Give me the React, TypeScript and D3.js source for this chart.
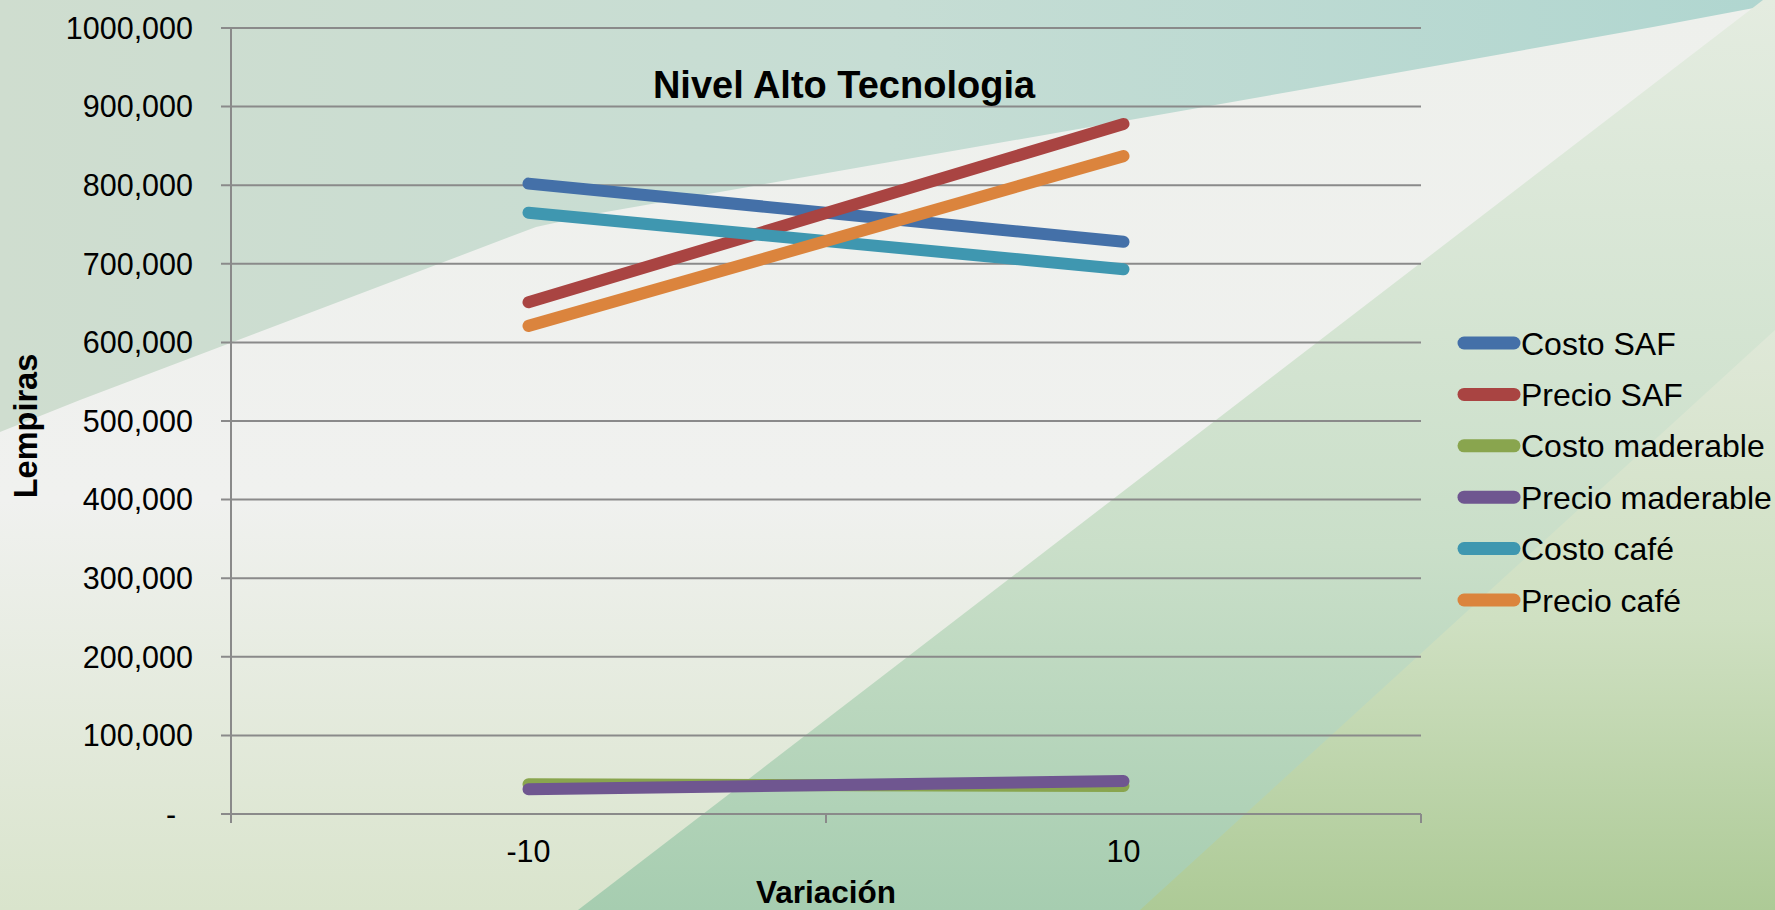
import React from 'react';
import * as d3 from 'd3';

// Data
const categories = ['-10', '10'];
const seriesNames = ['Costo SAF', 'Precio SAF', 'Costo maderable', 'Precio maderable', 'Costo café', 'Precio café'];
const costoSAF = [802000, 728000];
const precioSAF = [651000, 878000];
const costoMaderable = [38000, 35500];
const precioMaderable = [31500, 42000];
const costoCafe = [765000, 693000];
const precioCafe = [621000, 837000];
const seriesColors = ['#4470A8', '#A94442', '#89A54E', '#6F5690', '#3F97B0', '#DB843D'];
const yTickValues = [0, 100000, 200000, 300000, 400000, 500000, 600000, 700000, 800000, 900000, 1000000];
const yTickLabels = ['-\u00a0\u00a0', '100,000', '200,000', '300,000', '400,000', '500,000', '600,000', '700,000', '800,000', '900,000', '1000,000'];

const W = 1775;
const H = 910;
const FONT = "'Liberation Sans', Arial, Helvetica, sans-serif";

export default function App() {
  const margin = { top: 28, right: 354, bottom: 96, left: 231 };
  const plotRight = W - margin.right;
  const plotBottom = H - margin.bottom;

  const x = d3.scaleBand<string>().domain(categories).range([margin.left, plotRight]);
  const y = d3.scaleLinear().domain([0, 1000000]).range([plotBottom, margin.top]);
  const cx = (c: string) => (x(c) as number) + x.bandwidth() / 2;

  const values = [costoSAF, precioSAF, costoMaderable, precioMaderable, costoCafe, precioCafe];
  const line = d3.line<number>()
    .x((_, i) => cx(categories[i]))
    .y(d => y(d));

  const xTicks = [margin.left, ...categories.slice(1).map(c => x(c) as number), plotRight];

  return (
    <div style={{ position: 'absolute', left: 0, top: 0 }}>
      <svg width={W} height={H} style={{ display: 'block', fontFamily: FONT }}>
        <defs>
          <linearGradient id="bg-base" x1="0" y1="0" x2="0" y2="1">
            <stop offset="0%" stopColor="#eef0ec" />
            <stop offset="55%" stopColor="#f0f1ef" />
            <stop offset="100%" stopColor="#d9e4cc" />
          </linearGradient>
          <linearGradient id="bg-top" x1="0" y1="0" x2="1" y2="0">
            <stop offset="0%" stopColor="#cfddcf" />
            <stop offset="50%" stopColor="#c6ddd4" />
            <stop offset="100%" stopColor="#b0d6d0" />
          </linearGradient>
          <linearGradient id="bg-band" x1="0" y1="0" x2="0" y2="1">
            <stop offset="0%" stopColor="#e4ece0" />
            <stop offset="60%" stopColor="#cadfc9" />
            <stop offset="100%" stopColor="#a6cdb0" />
          </linearGradient>
          <linearGradient id="bg-right" x1="0" y1="0" x2="0" y2="1">
            <stop offset="0%" stopColor="#dfe8d8" />
            <stop offset="50%" stopColor="#cfe0c2" />
            <stop offset="100%" stopColor="#adca96" />
          </linearGradient>
        </defs>

        {/* slide background */}
        <rect x={0} y={0} width={W} height={H} fill="url(#bg-base)" />
        <polygon points="0,0 1775,0 1775,4 1653,27 1300,90 600,213 536,227 80,400 0,432" fill="url(#bg-top)" />
        <polygon points="1763,0 1775,0 1775,910 578,910" fill="url(#bg-band)" />
        <polygon points="1775,330 1775,910 1140,910" fill="url(#bg-right)" />

        {/* gridlines */}
        {yTickValues.map(v => (
          <line key={v} x1={margin.left - 10} x2={plotRight} y1={y(v)} y2={y(v)} stroke="#8a8a8a" strokeWidth={2} />
        ))}
        {/* y axis */}
        <line x1={margin.left} x2={margin.left} y1={margin.top} y2={plotBottom + 9} stroke="#8a8a8a" strokeWidth={2} />
        {xTicks.map((t, i) => (
          <line key={i} x1={t} x2={t} y1={plotBottom} y2={plotBottom + 9} stroke="#8a8a8a" strokeWidth={2} />
        ))}

        {/* y tick labels */}
        {yTickValues.map((v, i) => (
          <text key={v} x={193} y={y(v) + 10.7} textAnchor="end" fontSize={30.5} fill="#000">{yTickLabels[i]}</text>
        ))}
        {/* x tick labels */}
        {categories.map(c => (
          <text key={c} x={cx(c)} y={862} textAnchor="middle" fontSize={30.5} fill="#000">{c}</text>
        ))}

        {/* axis titles */}
        <text x={(margin.left + plotRight) / 2} y={903} textAnchor="middle" fontSize={31.5} fontWeight="bold" fill="#000">Variación</text>
        <text transform="translate(37,426) rotate(-90)" textAnchor="middle" fontSize={32.5} fontWeight="bold" fill="#000">Lempiras</text>

        {/* title */}
        <text x={844} y={98} textAnchor="middle" fontSize={38} fontWeight="bold" fill="#000">Nivel Alto Tecnologia</text>

        {/* series */}
        {values.map((vals, i) => (
          <path key={seriesNames[i]} d={line(vals) as string} fill="none" stroke={seriesColors[i]}
            strokeWidth={12} strokeLinecap="round" strokeLinejoin="round" />
        ))}

        {/* legend */}
        {seriesNames.map((name, i) => {
          const ly = 343 + i * 51.4;
          return (
            <g key={name}>
              <line x1={1464} x2={1514} y1={ly} y2={ly} stroke={seriesColors[i]} strokeWidth={13} strokeLinecap="round" />
              <text x={1521} y={ly + 11.5} fontSize={32} fill="#000">{name}</text>
            </g>
          );
        })}
      </svg>
    </div>
  );
}
